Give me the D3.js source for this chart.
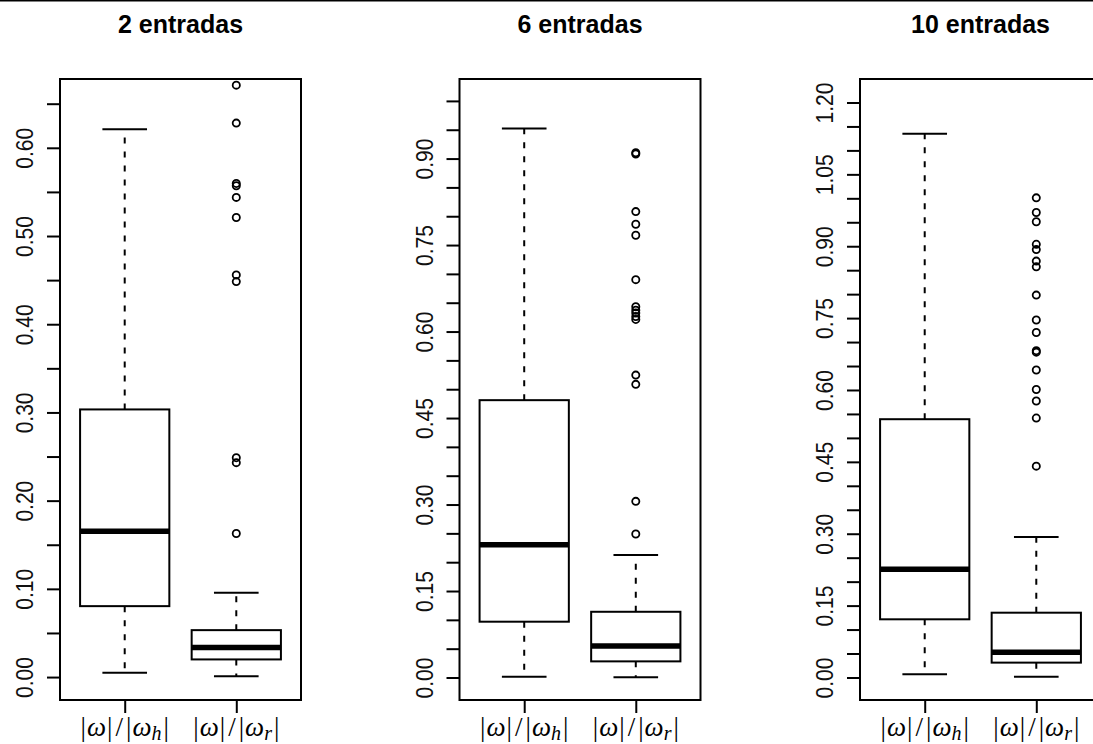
<!DOCTYPE html>
<html>
<head>
<meta charset="utf-8">
<script src="https://cdn.jsdelivr.net/npm/d3@7"></script>
<style>
  html, body { margin: 0; padding: 0; background: #fff; }
  svg { display: block; }
</style>
</head>
<body>
<svg id="chart" width="1093" height="744"></svg>
<script>
// Panel titles and group labels (subscript of the denominator)
const titles = ["2 entradas", "6 entradas", "10 entradas"];
const groupSubscripts = ["h", "r"];

// Five-number summaries per group: [lower whisker, Q1, median, Q3, upper whisker]
const stats2 = [[0.005, 0.0804, 0.1653, 0.3034, 0.621], [0.001, 0.020, 0.0336, 0.0532, 0.0955]];
const stats6 = [[0.0014, 0.0968, 0.2303, 0.481, 0.952], [0.0003, 0.028, 0.0546, 0.114, 0.2124]];
const stats10 = [[0.0066, 0.1214, 0.2257, 0.539, 1.1346], [0.0017, 0.031, 0.0526, 0.1352, 0.2931]];

// Outlying points per group
const outliers2 = [[], [0.671, 0.628, 0.5596, 0.557, 0.5438, 0.521, 0.4559, 0.4483, 0.2487, 0.2431, 0.1627]];
const outliers6 = [[], [0.910, 0.908, 0.808, 0.786, 0.767, 0.690, 0.643, 0.637, 0.632, 0.626, 0.621, 0.5245, 0.5084, 0.3055, 0.2488]];
const outliers10 = [[], [1.001, 0.9705, 0.951, 0.904, 0.893, 0.869, 0.857, 0.798, 0.746, 0.720, 0.682, 0.679, 0.6416, 0.601, 0.577, 0.5414, 0.441]];

// Value range shown on each panel's y axis
const yDomain2 = [-0.026, 0.678];
const yDomain6 = [-0.039, 1.038];
const yDomain10 = [-0.047, 1.249];

// Tick marks (every 0.05) and the labelled subset
const ticks2 = d3.range(0, 14).map(i => i * 0.05);
const ticks6 = d3.range(0, 21).map(i => i * 0.05);
const ticks10 = d3.range(0, 25).map(i => i * 0.05);
const tickLabels2 = ["0.00", "0.10", "0.20", "0.30", "0.40", "0.50", "0.60"];
const tickLabels6 = ["0.00", "0.15", "0.30", "0.45", "0.60", "0.75", "0.90"];
const tickLabels10 = ["0.00", "0.15", "0.30", "0.45", "0.60", "0.75", "0.90", "1.05", "1.20"];

const panels = [
  { title: titles[0], stats: stats2, outliers: outliers2, domain: yDomain2, ticks: ticks2, labels: tickLabels2 },
  { title: titles[1], stats: stats6, outliers: outliers6, domain: yDomain6, ticks: ticks6, labels: tickLabels6 },
  { title: titles[2], stats: stats10, outliers: outliers10, domain: yDomain10, ticks: ticks10, labels: tickLabels10 }
];

const svg = d3.select("#chart");
const lefts = [60, 459.5, 860];
const plotW = 241, plotTop = 79, plotBottom = 700;

// thin rule along the top edge
svg.append("line").attr("x1", 0).attr("x2", 1093).attr("y1", 0.75).attr("y2", 0.75)
  .attr("stroke", "#000").attr("stroke-width", 1.5);

panels.forEach((p, pi) => {
  const left = lefts[pi];
  const g = svg.append("g");
  const x = d3.scaleLinear().domain([0.42, 2.58]).range([left, left + plotW]);
  const y = d3.scaleLinear().domain(p.domain).range([plotBottom, plotTop]);

  // title
  g.append("text")
    .attr("x", left + plotW / 2).attr("y", 33)
    .attr("text-anchor", "middle")
    .attr("font-family", "Liberation Sans, Arial, sans-serif")
    .attr("font-weight", "bold").attr("font-size", 25)
    .text(p.title);

  // y axis: ticks every 0.05, labels on the listed values
  const labelSet = new Set(p.labels);
  const yAxis = d3.axisLeft(y).tickValues(p.ticks).tickSize(13).tickPadding(0)
    .tickFormat(d => { const s = d.toFixed(2); return labelSet.has(s) ? s : ""; });
  const ax = g.append("g").attr("transform", `translate(${left},0)`).call(yAxis);
  ax.select(".domain").remove();
  ax.selectAll(".tick line").attr("stroke", "#000").attr("stroke-width", 2);
  ax.selectAll(".tick text")
    .attr("font-family", "Liberation Sans, Arial, sans-serif")
    .attr("font-size", 21).attr("fill", "#111")
    .attr("text-anchor", "middle")
    .attr("dy", null).attr("x", null)
    .attr("transform", "translate(-27,0) rotate(-90) scale(1,1.16)")
    .attr("dominant-baseline", "auto");

  // x axis ticks at the group positions
  const xAxis = d3.axisBottom(x).tickValues([1, 2]).tickSize(13).tickFormat("");
  const bx = g.append("g").attr("transform", `translate(0,${plotBottom})`).call(xAxis);
  bx.select(".domain").remove();
  bx.selectAll(".tick line").attr("stroke", "#000").attr("stroke-width", 2);

  // group labels |ω|/|ω_h| and |ω|/|ω_r|
  groupSubscripts.forEach((sub, gi) => {
    const t = g.append("text")
      .attr("x", x(gi + 1)).attr("y", 736)
      .attr("text-anchor", "middle")
      .attr("font-family", "Liberation Serif, Times New Roman, serif")
      .attr("font-size", 27);
    t.append("tspan").text("|");
    t.append("tspan").attr("font-style", "italic").attr("dx", 1).text("ω");
    t.append("tspan").attr("dx", 1).text("|");
    t.append("tspan").attr("dx", 3).text("/");
    t.append("tspan").attr("dx", 3).text("|");
    t.append("tspan").attr("font-style", "italic").attr("dx", 1).text("ω");
    t.append("tspan").attr("font-style", "italic").attr("font-size", 20).attr("dy", 4).text(sub);
    t.append("tspan").attr("dy", -4).attr("dx", 2).text("|");
  });

  // boxes
  p.stats.forEach((s, gi) => {
    const cx = x(gi + 1);
    const [lo, q1, med, q3, hi] = s;
    const bw = x(gi + 1 + 0.4) - cx;
    const cw = x(gi + 1 + 0.2) - cx;
    const bg = g.append("g");
    // whiskers
    bg.append("line").attr("x1", cx).attr("x2", cx).attr("y1", y(q3)).attr("y2", y(hi))
      .attr("stroke", "#000").attr("stroke-width", 2).attr("stroke-dasharray", "6,8");
    bg.append("line").attr("x1", cx).attr("x2", cx).attr("y1", y(q1)).attr("y2", y(lo))
      .attr("stroke", "#000").attr("stroke-width", 2).attr("stroke-dasharray", "6,8");
    // caps
    [lo, hi].forEach(v => bg.append("line")
      .attr("x1", cx - cw).attr("x2", cx + cw).attr("y1", y(v)).attr("y2", y(v))
      .attr("stroke", "#000").attr("stroke-width", 2));
    // box
    bg.append("rect").attr("x", cx - bw).attr("y", y(q3))
      .attr("width", 2 * bw).attr("height", y(q1) - y(q3))
      .attr("fill", "#fff").attr("stroke", "#000").attr("stroke-width", 2);
    // median
    bg.append("line").attr("x1", cx - bw).attr("x2", cx + bw).attr("y1", y(med)).attr("y2", y(med))
      .attr("stroke", "#000").attr("stroke-width", 5.5);
    // outliers
    bg.selectAll("circle").data(p.outliers[gi]).join("circle")
      .attr("cx", cx).attr("cy", d => y(d)).attr("r", 3.6)
      .attr("fill", "none").attr("stroke", "#000").attr("stroke-width", 1.8);
  });

  // plot frame
  g.append("rect").attr("x", left).attr("y", plotTop)
    .attr("width", plotW).attr("height", plotBottom - plotTop)
    .attr("fill", "none").attr("stroke", "#000").attr("stroke-width", 2);
});
</script>
</body>
</html>
